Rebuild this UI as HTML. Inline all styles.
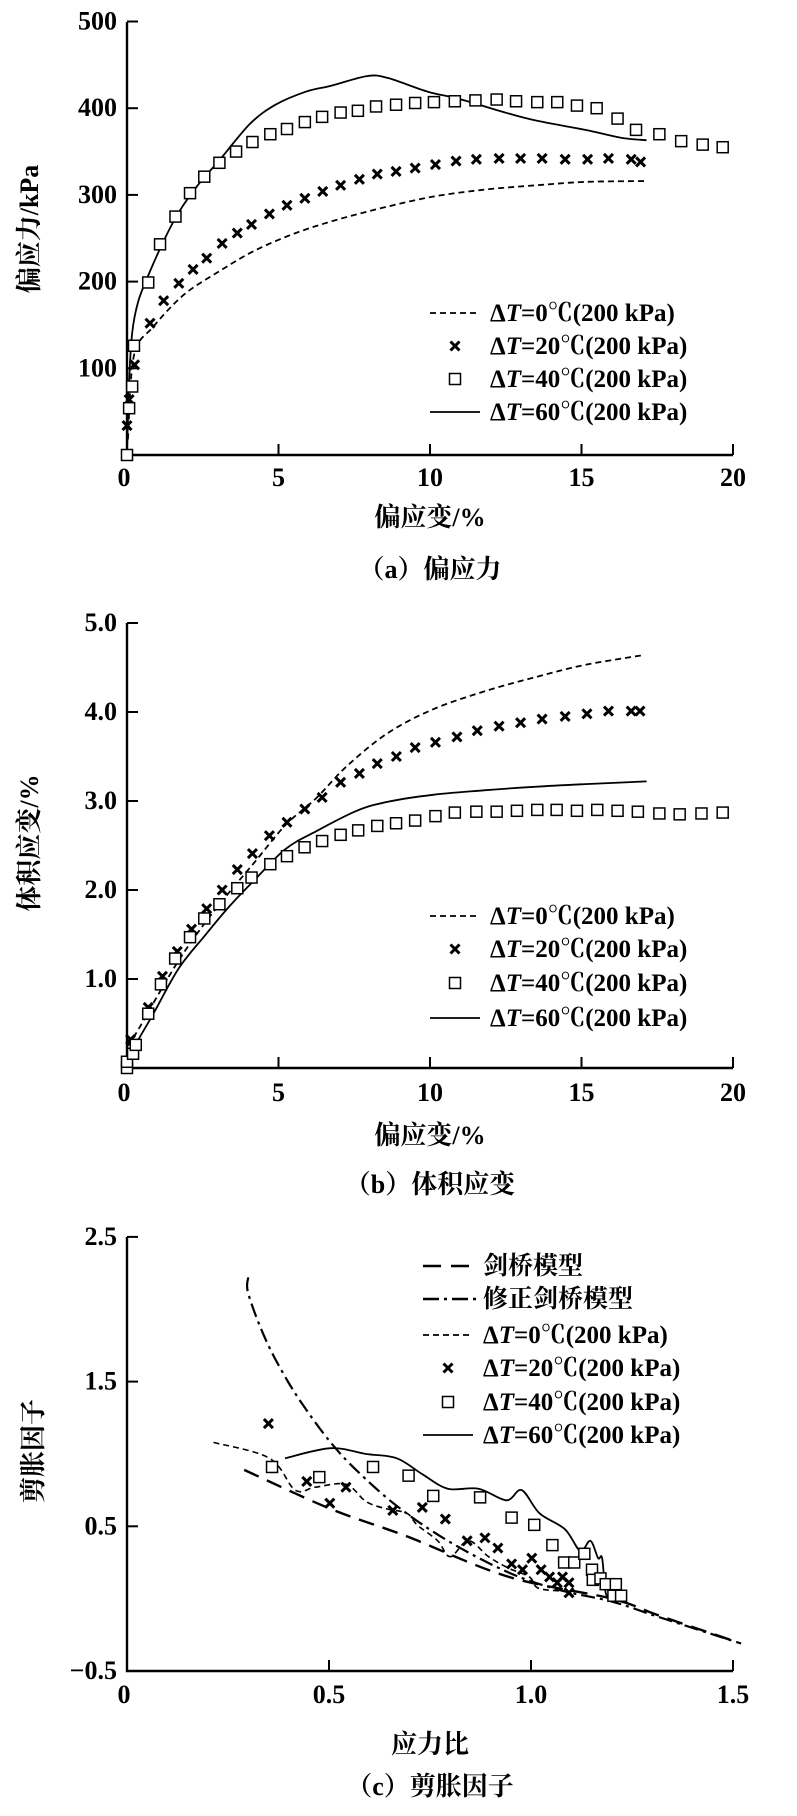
<!DOCTYPE html>
<html><head><meta charset="utf-8">
<style>
html,body{margin:0;padding:0;background:#fff;}
svg{display:block;}
text{font-family:"Liberation Serif","Noto Serif CJK SC",serif;fill:#000;font-weight:bold;}
</style></head>
<body>
<svg id="fig" width="797" height="1816" viewBox="0 0 797 1816" xmlns="http://www.w3.org/2000/svg"></svg>
<script>
// ---- Chart (a) data ----
const aTicksX=[0,5,10,15,20];
const aTicksY=[100,200,300,400,500];
const aSqX=[0,0.07,0.17,0.23,0.7,1.09,1.6,2.08,2.55,3.05,3.6,4.14,4.73,5.28,5.87,6.44,7.05,7.62,8.22,8.88,9.51,10.13,10.82,11.5,12.2,12.84,13.54,14.2,14.85,15.5,16.19,16.8,17.57,18.29,19.0,19.66];
const aSqY=[0,54,79,126,199,243,275,302,321,337,350,361,370,376,384,390,395,397,402,404,406,407,408,409,410,408,407,407,403,400,388,375,370,362,358,355];
const aXX=[0,0.07,0.25,0.76,1.21,1.71,2.18,2.63,3.14,3.64,4.11,4.7,5.28,5.87,6.46,7.05,7.67,8.26,8.88,9.51,10.18,10.86,11.53,12.28,12.99,13.7,14.46,15.2,15.89,16.64,16.95];
const aXY=[34,64,104,152,178,198,214,227,244,256,266,278,288,296,304,311,318,324,327,331,335,339,341,342,342,342,341,341,342,341,338];
const aD0X=[0.03,0.23,0.87,1.88,3.05,4.23,5.57,6.9,8.42,10.1,11.78,13.46,15.13,17.15];
const aD0Y=[18,115,148,185,212,236,256,271,285,298,306,311,315,316];
const aS60X=[0,0.07,0.17,0.37,0.7,1.21,1.71,2.38,3.05,4.06,4.9,5.9,6.74,7.92,8.6,9.93,10.94,12.28,13.46,15.13,16.3,17.15];
const aS60Y=[4,84,141,177,207,247,280,313,340,382,404,419,426,437,435,419,411,397,386,375,366,363];
// ---- Chart (b) data ----
const bTicksX=[0,5,10,15,20];
const bTicksY=[1.0,2.0,3.0,4.0,5.0];
const bSqX=[0,0,0.2,0.29,0.7,1.12,1.59,2.08,2.55,3.05,3.64,4.11,4.73,5.28,5.86,6.44,7.05,7.63,8.26,8.88,9.51,10.18,10.82,11.53,12.2,12.87,13.54,14.18,14.85,15.52,16.19,16.86,17.57,18.24,18.96,19.66];
const bSqY=[0,0.07,0.16,0.26,0.61,0.94,1.23,1.47,1.68,1.84,2.02,2.14,2.29,2.38,2.48,2.55,2.62,2.67,2.72,2.75,2.78,2.83,2.87,2.88,2.88,2.89,2.9,2.9,2.89,2.9,2.89,2.88,2.86,2.85,2.86,2.87];
const bXX=[0.12,0.7,1.17,1.66,2.13,2.63,3.14,3.64,4.14,4.7,5.28,5.87,6.44,7.05,7.67,8.26,8.89,9.51,10.18,10.89,11.56,12.28,12.99,13.7,14.46,15.18,15.89,16.64,16.93];
const bXY=[0.32,0.68,1.03,1.31,1.56,1.79,2.0,2.23,2.41,2.61,2.76,2.91,3.04,3.21,3.31,3.42,3.5,3.6,3.66,3.72,3.79,3.84,3.88,3.92,3.95,3.98,4.01,4.01,4.01];
const bD0X=[0.03,0.37,0.87,1.71,2.55,3.39,4.23,5.23,6.24,7.25,8.59,10.1,11.78,13.46,15.13,17.06];
const bD0Y=[0.25,0.43,0.73,1.21,1.62,1.98,2.32,2.73,3.03,3.39,3.76,4.03,4.23,4.39,4.53,4.64];
const bS60X=[0.29,0.87,1.71,2.55,3.39,4.23,5.23,6.24,7.58,8.59,10.1,11.78,13.46,15.13,17.15];
const bS60Y=[0.27,0.61,1.12,1.48,1.82,2.12,2.46,2.66,2.89,2.99,3.07,3.12,3.16,3.19,3.22];
// ---- Chart (c) data ----
const cTicksX=[0,0.5,1.0,1.5];
const cTickLabelsX=["0","0.5","1.0","1.5"];
const cTicksY=[-0.5,0.5,1.5,2.5];
const cTickLabelsY=["\u22120.5","0.5","1.5","2.5"];
const cCamX=[0.29,0.504,0.693,0.945,1.2,1.32,1.51];
const cCamY=[0.89,0.62,0.43,0.15,0.0,-0.12,-0.3];
const cModX=[0.3,0.3,0.34,0.39,0.44,0.504,0.567,0.668,0.794,0.945,1.07,1.2,1.32,1.52];
const cModY=[2.22,2.11,1.81,1.54,1.32,1.08,0.89,0.64,0.4,0.18,0.06,-0.02,-0.13,-0.31];
const cD0X=[0.214,0.353,0.416,0.466,0.542,0.592,0.643,0.693,0.718,0.769,0.8,0.845,0.895,0.945,0.996,1.02,1.1];
const cD0Y=[1.08,0.97,0.75,0.77,0.79,0.67,0.62,0.59,0.51,0.4,0.29,0.4,0.29,0.21,0.15,0.07,0.05];
const cXX=[0.35,0.445,0.502,0.542,0.658,0.731,0.788,0.842,0.886,0.918,0.952,0.979,1.002,1.025,1.046,1.065,1.078,1.094,1.094];
const cXY=[1.21,0.81,0.66,0.77,0.61,0.63,0.55,0.4,0.42,0.35,0.24,0.2,0.28,0.2,0.15,0.11,0.15,0.11,0.04];
const cSqX=[0.359,0.476,0.609,0.697,0.758,0.874,0.952,1.008,1.053,1.082,1.107,1.132,1.151,1.153,1.172,1.185,1.204,1.21,1.223];
const cSqY=[0.91,0.84,0.91,0.85,0.71,0.7,0.56,0.51,0.37,0.25,0.25,0.31,0.2,0.13,0.14,0.1,0.02,0.1,0.02];
const cS60X=[0.391,0.504,0.592,0.668,0.731,0.794,0.87,0.939,0.977,1.021,1.084,1.122,1.147,1.166,1.176,1.185,1.2];
const cS60Y=[0.97,1.04,1.0,0.97,0.86,0.76,0.76,0.68,0.75,0.59,0.48,0.33,0.4,0.28,0.28,0.04,-0.01];

const NS="http://www.w3.org/2000/svg";
const svg=document.getElementById('fig');
function mk(tag,attrs,parent){const e=document.createElementNS(NS,tag);for(const k in attrs)e.setAttribute(k,attrs[k]);(parent||svg).appendChild(e);return e;}
function txt(s,x,y,size,anchor,parent){const t=mk('text',{x:x,y:y,'font-size':size,'text-anchor':anchor||'middle'},parent);t.textContent=s;return t;}

function axes(g,x0,x1,y0,y1,xs,xsLab,ys,ysLab,sx,sy,xlabY){
  const ax=mk('path',{d:`M${x0} ${y1}V${y0}H${x1}`,fill:'none',stroke:'#000','stroke-width':2.4},g);
  
  
  xs.forEach((v,i)=>{
    const x=sx(v);
    if(v!==xs[0]){const t=mk('line',{x1:x,x2:x,y1:y0,y2:y0-11,stroke:'#000','stroke-width':2},g);
      
      }
    const l=txt(xsLab[i],i===0?x-3:x,xlabY,26,'middle',g);
    
    
  });
  ys.forEach((v,i)=>{
    const y=sy(v);
    const t=mk('line',{x1:x0,x2:x0+11,y1:y,y2:y,stroke:'#000','stroke-width':2},g);
    
    
    const l=txt(ysLab[i],x0-10,y+8,26,'end',g);
    
    
  });
}
function line(g,X,Y,sx,sy,dash,w,name){
  const P=X.map((v,i)=>[sx(v),sy(Y[i])]);
  let d='M'+P[0][0].toFixed(1)+' '+P[0][1].toFixed(1);
  for(let i=0;i<P.length-1;i++){
    const p0=P[Math.max(0,i-1)],p1=P[i],p2=P[i+1],p3=P[Math.min(P.length-1,i+2)];
    const c1=[p1[0]+(p2[0]-p0[0])/6,p1[1]+(p2[1]-p0[1])/6];
    const c2=[p2[0]-(p3[0]-p1[0])/6,p2[1]-(p3[1]-p1[1])/6];
    d+=`C${c1[0].toFixed(1)} ${c1[1].toFixed(1)} ${c2[0].toFixed(1)} ${c2[1].toFixed(1)} ${p2[0].toFixed(1)} ${p2[1].toFixed(1)}`;
  }
  const p=mk('path',{d:d,fill:'none',stroke:'#000','stroke-width':w||1.8,'stroke-dasharray':dash||'none','stroke-linejoin':'round'},g);
  
  
}
function squares(g,X,Y,sx,sy,name){
  X.forEach((v,i)=>{const r=mk('rect',{x:sx(v)-5.5,y:sy(Y[i])-5.5,width:11,height:11,fill:'#fff',stroke:'#000','stroke-width':1.5},g);
    
    });
}
function crosses(g,X,Y,sx,sy,name){
  X.forEach((v,i)=>{const x=sx(v),y=sy(Y[i]);
    const p=mk('path',{d:`M${x-4.5} ${y-4.5}L${x+4.5} ${y+4.5}M${x+4.5} ${y-4.5}L${x-4.5} ${y+4.5}`,stroke:'#000','stroke-width':3},g);
    
    });
}
function legendEntry(g,type,lx,ty,label,prefix){
  const e=mk('g',{},g);
  
  
  const cy=ty-8;
  if(type==='dash')mk('line',{x1:lx,x2:lx+50,y1:cy,y2:cy,stroke:'#000','stroke-width':1.8,'stroke-dasharray':'6 4'},e);
  if(type==='solid')mk('line',{x1:lx,x2:lx+50,y1:cy,y2:cy,stroke:'#000','stroke-width':1.8},e);
  if(type==='long')mk('line',{x1:lx,x2:lx+56,y1:cy,y2:cy,stroke:'#000','stroke-width':2.6,'stroke-dasharray':'18 10'},e);
  if(type==='dashdot')mk('line',{x1:lx,x2:lx+56,y1:cy,y2:cy,stroke:'#000','stroke-width':2.6,'stroke-dasharray':'16 5 3 5'},e);
  if(type==='sq')mk('rect',{x:lx+25-5.5,y:cy-5.5,width:11,height:11,fill:'#fff',stroke:'#000','stroke-width':1.5},e);
  if(type==='x'){const x=lx+25;mk('path',{d:`M${x-4.5} ${cy-4.5}L${x+4.5} ${cy+4.5}M${x+4.5} ${cy-4.5}L${x-4.5} ${cy+4.5}`,stroke:'#000','stroke-width':3},e);}
  const t=mk('text',{x:lx+60,y:ty,'font-size':25},e);
  if(prefix){
    const a=mk('tspan',{},t);a.textContent='\u0394';
    const b=mk('tspan',{'font-style':'italic'},t);b.textContent='T';
    const c=mk('tspan',{},t);c.textContent=label;
  } else t.textContent=label;
}
function ylab(g,s,x,y){const t=txt(s,0,0,26,'middle',g);t.setAttribute('transform',`translate(${x},${y}) rotate(-90)`);
  }

// ---- Chart (a) ----
(function(){
  const g=mk('g',{});
  const sx=v=>127+v*30.3, sy=v=>455-v*0.867;
  axes(g,127,733,455,22,aTicksX,aTicksX.map(String),aTicksY,aTicksY.map(String),sx,sy,486);
  line(g,aD0X,aD0Y,sx,sy,'6 4',1.8,'series-dT0-line');
  line(g,aS60X,aS60Y,sx,sy,null,1.8,'series-dT60-line');
  crosses(g,aXX,aXY,sx,sy,'series-dT20-point');
  squares(g,aSqX,aSqY,sx,sy,'series-dT40-point');
  const lg=mk('g',{},g);
  legendEntry(lg,'dash',430,321,'=0\u2103(200 kPa)',1);
  legendEntry(lg,'x',430,354,'=20\u2103(200 kPa)',1);
  legendEntry(lg,'sq',430,387,'=40\u2103(200 kPa)',1);
  legendEntry(lg,'solid',430,420,'=60\u2103(200 kPa)',1);
  ylab(g,'偏应力/kPa',38,229);
  const xl=txt('偏应变/%',430,526,26,'middle',g);
  const cp=txt('（a）偏应力',430,578,26,'middle',g);
})();
// ---- Chart (b) ----
(function(){
  const g=mk('g',{});
  const sx=v=>127+v*30.3, sy=v=>1068-v*89;
  axes(g,127,733,1068,623,bTicksX,bTicksX.map(String),bTicksY,bTicksY.map(v=>v.toFixed(1)),sx,sy,1101);
  line(g,bD0X,bD0Y,sx,sy,'6 4',1.8,'series-dT0-line');
  line(g,bS60X,bS60Y,sx,sy,null,1.8,'series-dT60-line');
  crosses(g,bXX,bXY,sx,sy,'series-dT20-point');
  squares(g,bSqX,bSqY,sx,sy,'series-dT40-point');
  const lg=mk('g',{},g);
  legendEntry(lg,'dash',430,924,'=0\u2103(200 kPa)',1);
  legendEntry(lg,'x',430,957,'=20\u2103(200 kPa)',1);
  legendEntry(lg,'sq',430,991,'=40\u2103(200 kPa)',1);
  legendEntry(lg,'solid',430,1026,'=60\u2103(200 kPa)',1);
  ylab(g,'体积应变/%',38,843);
  const xl=txt('偏应变/%',430,1144,26,'middle',g);
  const cp=txt('（b）体积应变',430,1193,26,'middle',g);
})();
// ---- Chart (c) ----
(function(){
  const g=mk('g',{});
  const sx=v=>127+v*404, sy=v=>1671-(v+0.5)*144.7;
  axes(g,127,733,1671,1237,cTicksX,cTickLabelsX,cTicksY,cTickLabelsY,sx,sy,1703);
  line(g,cCamX,cCamY,sx,sy,'16 9',2.4,'cam-clay-model-line');
  line(g,cModX,cModY,sx,sy,'14 5 3 5',2.2,'modified-cam-clay-line');
  line(g,cD0X,cD0Y,sx,sy,'6 4',1.6,'series-dT0-line');
  line(g,cS60X,cS60Y,sx,sy,null,1.8,'series-dT60-line');
  crosses(g,cXX,cXY,sx,sy,'series-dT20-point');
  squares(g,cSqX,cSqY,sx,sy,'series-dT40-point');
  const lg=mk('g',{},g);
  legendEntry(lg,'long',423,1274,'剑桥模型',0);
  legendEntry(lg,'dashdot',423,1307,'修正剑桥模型',0);
  legendEntry(lg,'dash',423,1343,'=0\u2103(200 kPa)',1);
  legendEntry(lg,'x',423,1376,'=20\u2103(200 kPa)',1);
  legendEntry(lg,'sq',423,1410,'=40\u2103(200 kPa)',1);
  legendEntry(lg,'solid',423,1443,'=60\u2103(200 kPa)',1);
  ylab(g,'剪胀因子',42,1451);
  const xl=txt('应力比',430,1753,26,'middle',g);
  const cp=txt('（c）剪胀因子',430,1795,26,'middle',g);
})();
</script>
</body></html>
